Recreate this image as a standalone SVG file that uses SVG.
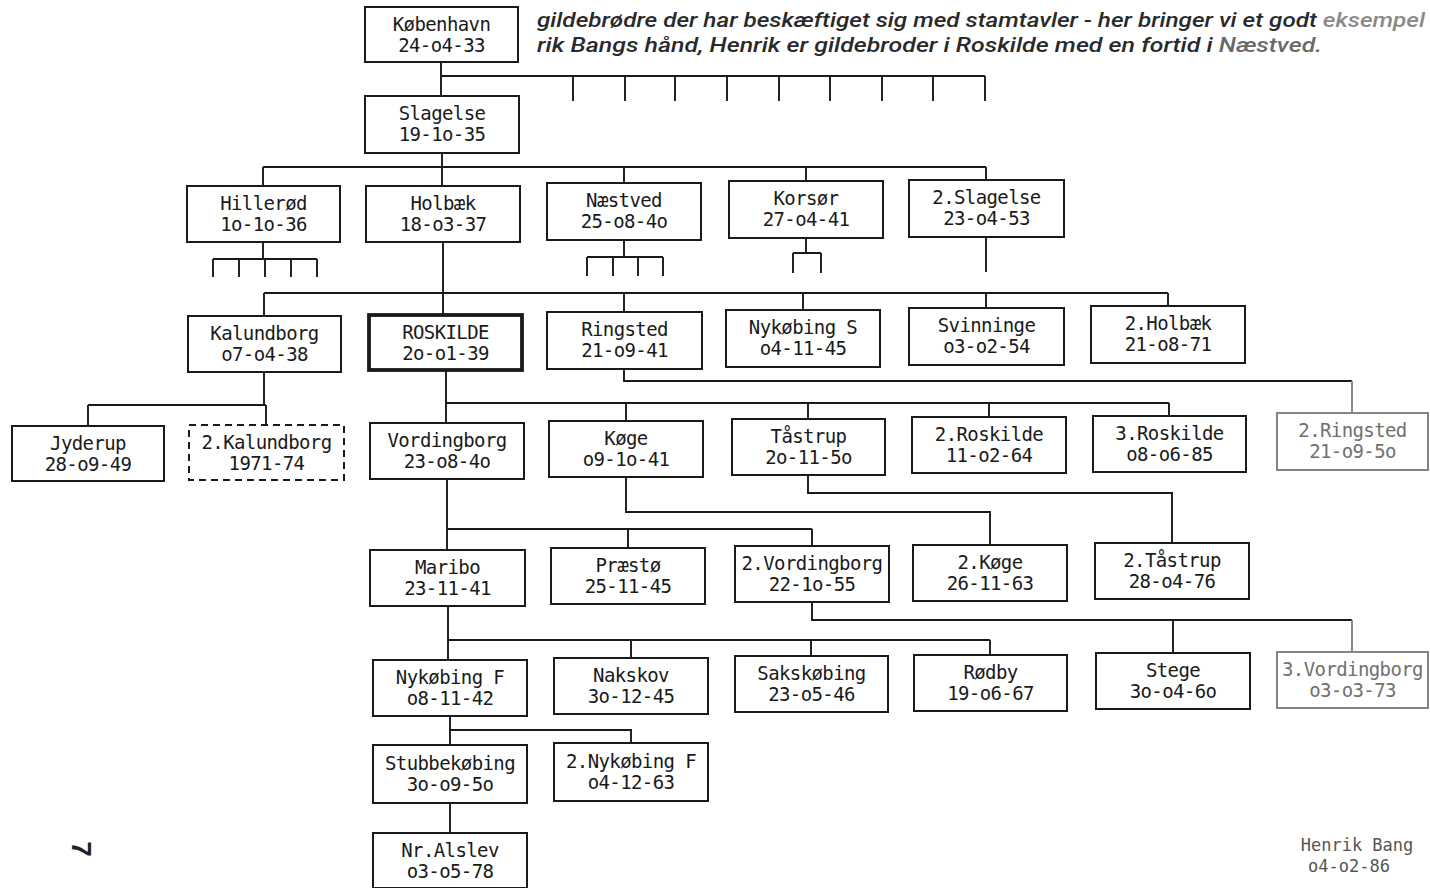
<svg xmlns="http://www.w3.org/2000/svg" width="1430" height="888" viewBox="0 0 1430 888">
<defs>
<style>
.b{fill:#fff;stroke:#1a1a1a;stroke-width:2}
.thick{stroke-width:3.8}
.dash{stroke-dasharray:7 5}
.gray{stroke:#858585}
.t{font-family:"DejaVu Sans Mono","Liberation Mono",monospace;font-size:19px;letter-spacing:-0.6px;fill:#1a1a1a;text-anchor:middle}
.tg{fill:#707070}
.c{fill:none;stroke:#1a1a1a;stroke-width:1.9}
.cg{stroke:#858585}
.h{font-family:Roboto,"Liberation Sans",Arial,sans-serif;font-style:italic;font-weight:500;font-size:21px;fill:#2a2a2a}
.sig{font-family:"DejaVu Sans Mono","Liberation Mono",monospace;font-size:17px;fill:#555;text-anchor:middle}
</style>
</defs>
<rect width="1430" height="888" fill="#fff"/>
<g id="header">
<text class="h" x="537" y="27" textLength="888" lengthAdjust="spacingAndGlyphs">gildebrødre der har beskæftiget sig med stamtavler - her bringer vi et godt <tspan fill="#8a8a8a">eksempel</tspan></text>
<text class="h" x="537" y="52" textLength="785" lengthAdjust="spacingAndGlyphs">rik Bangs hånd, Henrik er gildebroder i Roskilde med en fortid i <tspan fill="#6a6a6a">Næstved.</tspan></text>
</g>
<g id="connectors">
<path class="c" d="M441,62V96M441,76H985M573,76V101M625,76V101M675,76V101M727,76V101M779,76V101M830,76V101M882,76V101M933,76V101M985,76V101"/>
<path class="c" d="M442,153V186M263,167H986M263,167V186M624,167V183M806,167V181M986,167V180"/>
<path class="c" d="M263,242V259M213,259H317M213,259V277M239,259V277M265,259V277M291,259V277M317,259V277"/>
<path class="c" d="M624,240V257M587,257H663M587,257V276M613,257V276M638,257V276M663,257V276"/>
<path class="c" d="M806,238V253M793,253H821M793,253V273M821,253V273"/>
<path class="c" d="M986,237V272"/>
<path class="c" d="M443,242V315M264,293H1168M264,293V316M624,293V312M803,293V310M986,293V308M1168,293V306"/>
<path class="c" d="M264,372V405M88,405H266M88,405V426M266,405V425"/>
<path class="c" d="M446,370V423M446,403H1169M626,403V421M808,403V419M989,403V417M1169,403V416"/>
<path class="c" d="M624,369V381H1352"/>
<path class="c cg" d="M1352,381V413"/>
<path class="c" d="M447,479V550M447,529H812M628,529V548M812,529V546"/>
<path class="c" d="M626,477V512H990V545"/>
<path class="c" d="M808,475V493H1172V543"/>
<path class="c" d="M448,606V660M448,640H990M631,640V658M811,640V656M990,640V655"/>
<path class="c" d="M812,602V620H1352M1173,620V653"/>
<path class="c cg" d="M1352,620V652"/>
<path class="c" d="M450,716V745M450,730H631V743"/>
<path class="c" d="M450,803V833"/>
</g>
<g id="kobenhavn"><rect class="b" x="365" y="7" width="153" height="55"/><text class="t" x="441.5" y="31">København</text><text class="t" x="441.5" y="52">24-o4-33</text></g>
<g id="slagelse"><rect class="b" x="365" y="96" width="154" height="57"/><text class="t" x="442" y="120">Slagelse</text><text class="t" x="442" y="141">19-1o-35</text></g>
<g id="hillerod"><rect class="b" x="187" y="186" width="153" height="56"/><text class="t" x="263.5" y="210">Hillerød</text><text class="t" x="263.5" y="231">1o-1o-36</text></g>
<g id="holbaek"><rect class="b" x="366" y="186" width="154" height="56"/><text class="t" x="443" y="210">Holbæk</text><text class="t" x="443" y="231">18-o3-37</text></g>
<g id="naestved"><rect class="b" x="547" y="183" width="154" height="57"/><text class="t" x="624" y="207">Næstved</text><text class="t" x="624" y="228">25-o8-4o</text></g>
<g id="korsor"><rect class="b" x="729" y="181" width="154" height="57"/><text class="t" x="806" y="205">Korsør</text><text class="t" x="806" y="226">27-o4-41</text></g>
<g id="slagelse2"><rect class="b" x="909" y="180" width="155" height="57"/><text class="t" x="986.5" y="204">2.Slagelse</text><text class="t" x="986.5" y="225">23-o4-53</text></g>
<g id="kalundborg"><rect class="b" x="188" y="316" width="153" height="56"/><text class="t" x="264.5" y="340">Kalundborg</text><text class="t" x="264.5" y="361">o7-o4-38</text></g>
<g id="roskilde"><rect class="b thick" x="369" y="315" width="153" height="55"/><text class="t" x="445.5" y="339">ROSKILDE</text><text class="t" x="445.5" y="360">2o-o1-39</text></g>
<g id="ringsted"><rect class="b" x="547" y="312" width="155" height="57"/><text class="t" x="624.5" y="336">Ringsted</text><text class="t" x="624.5" y="357">21-o9-41</text></g>
<g id="nykobing-s"><rect class="b" x="726" y="310" width="154" height="57"/><text class="t" x="803" y="334">Nykøbing S</text><text class="t" x="803" y="355">o4-11-45</text></g>
<g id="svinninge"><rect class="b" x="909" y="308" width="155" height="57"/><text class="t" x="986.5" y="332">Svinninge</text><text class="t" x="986.5" y="353">o3-o2-54</text></g>
<g id="holbaek2"><rect class="b" x="1091" y="306" width="154" height="57"/><text class="t" x="1168" y="330">2.Holbæk</text><text class="t" x="1168" y="351">21-o8-71</text></g>
<g id="jyderup"><rect class="b" x="12" y="426" width="152" height="55"/><text class="t" x="88" y="450">Jyderup</text><text class="t" x="88" y="471">28-o9-49</text></g>
<g id="kalundborg2"><rect class="b dash" x="189" y="425" width="155" height="55"/><text class="t" x="266.5" y="449">2.Kalundborg</text><text class="t" x="266.5" y="470">1971-74</text></g>
<g id="vordingborg"><rect class="b" x="370" y="423" width="154" height="56"/><text class="t" x="447" y="447">Vordingborg</text><text class="t" x="447" y="468">23-o8-4o</text></g>
<g id="koge"><rect class="b" x="549" y="421" width="154" height="56"/><text class="t" x="626" y="445">Køge</text><text class="t" x="626" y="466">o9-1o-41</text></g>
<g id="taastrup"><rect class="b" x="732" y="419" width="153" height="56"/><text class="t" x="808.5" y="443">Tåstrup</text><text class="t" x="808.5" y="464">2o-11-5o</text></g>
<g id="roskilde2"><rect class="b" x="912" y="417" width="154" height="56"/><text class="t" x="989" y="441">2.Roskilde</text><text class="t" x="989" y="462">11-o2-64</text></g>
<g id="roskilde3"><rect class="b" x="1093" y="416" width="153" height="56"/><text class="t" x="1169.5" y="440">3.Roskilde</text><text class="t" x="1169.5" y="461">o8-o6-85</text></g>
<g id="ringsted2"><rect class="b gray" x="1277" y="413" width="151" height="57"/><text class="t tg" x="1352.5" y="437">2.Ringsted</text><text class="t tg" x="1352.5" y="458">21-o9-5o</text></g>
<g id="maribo"><rect class="b" x="370" y="550" width="155" height="56"/><text class="t" x="447.5" y="574">Maribo</text><text class="t" x="447.5" y="595">23-11-41</text></g>
<g id="praesto"><rect class="b" x="551" y="548" width="154" height="56"/><text class="t" x="628" y="572">Præstø</text><text class="t" x="628" y="593">25-11-45</text></g>
<g id="vordingborg2"><rect class="b" x="735" y="546" width="154" height="56"/><text class="t" x="812" y="570">2.Vordingborg</text><text class="t" x="812" y="591">22-1o-55</text></g>
<g id="koge2"><rect class="b" x="913" y="545" width="154" height="56"/><text class="t" x="990" y="569">2.Køge</text><text class="t" x="990" y="590">26-11-63</text></g>
<g id="taastrup2"><rect class="b" x="1095" y="543" width="154" height="56"/><text class="t" x="1172" y="567">2.Tåstrup</text><text class="t" x="1172" y="588">28-o4-76</text></g>
<g id="nykobing-f"><rect class="b" x="373" y="660" width="154" height="56"/><text class="t" x="450" y="684">Nykøbing F</text><text class="t" x="450" y="705">o8-11-42</text></g>
<g id="nakskov"><rect class="b" x="554" y="658" width="154" height="56"/><text class="t" x="631" y="682">Nakskov</text><text class="t" x="631" y="703">3o-12-45</text></g>
<g id="sakskobing"><rect class="b" x="735" y="656" width="153" height="56"/><text class="t" x="811.5" y="680">Sakskøbing</text><text class="t" x="811.5" y="701">23-o5-46</text></g>
<g id="rodby"><rect class="b" x="914" y="655" width="153" height="56"/><text class="t" x="990.5" y="679">Rødby</text><text class="t" x="990.5" y="700">19-o6-67</text></g>
<g id="stege"><rect class="b" x="1096" y="653" width="154" height="56"/><text class="t" x="1173" y="677">Stege</text><text class="t" x="1173" y="698">3o-o4-6o</text></g>
<g id="vordingborg3"><rect class="b gray" x="1277" y="652" width="151" height="56"/><text class="t tg" x="1352.5" y="676">3.Vordingborg</text><text class="t tg" x="1352.5" y="697">o3-o3-73</text></g>
<g id="stubbekobing"><rect class="b" x="373" y="745" width="154" height="58"/><text class="t" x="450" y="770">Stubbekøbing</text><text class="t" x="450" y="791">3o-o9-5o</text></g>
<g id="nykobing-f2"><rect class="b" x="554" y="743" width="154" height="58"/><text class="t" x="631" y="768">2.Nykøbing F</text><text class="t" x="631" y="789">o4-12-63</text></g>
<g id="nr-alslev"><rect class="b" x="373" y="833" width="154" height="55"/><text class="t" x="450" y="857">Nr.Alslev</text><text class="t" x="450" y="878">o3-o5-78</text></g>
<g id="signature"><text class="sig" x="1357" y="851">Henrik Bang</text><text class="sig" x="1349" y="872">o4-o2-86</text></g>
<g id="page-number"><text x="0" y="0" transform="translate(81,849) rotate(90)" font-family="Liberation Sans,Arial,sans-serif" font-weight="bold" font-size="28" fill="#222" text-anchor="middle" dominant-baseline="central">7</text></g>
</svg>
